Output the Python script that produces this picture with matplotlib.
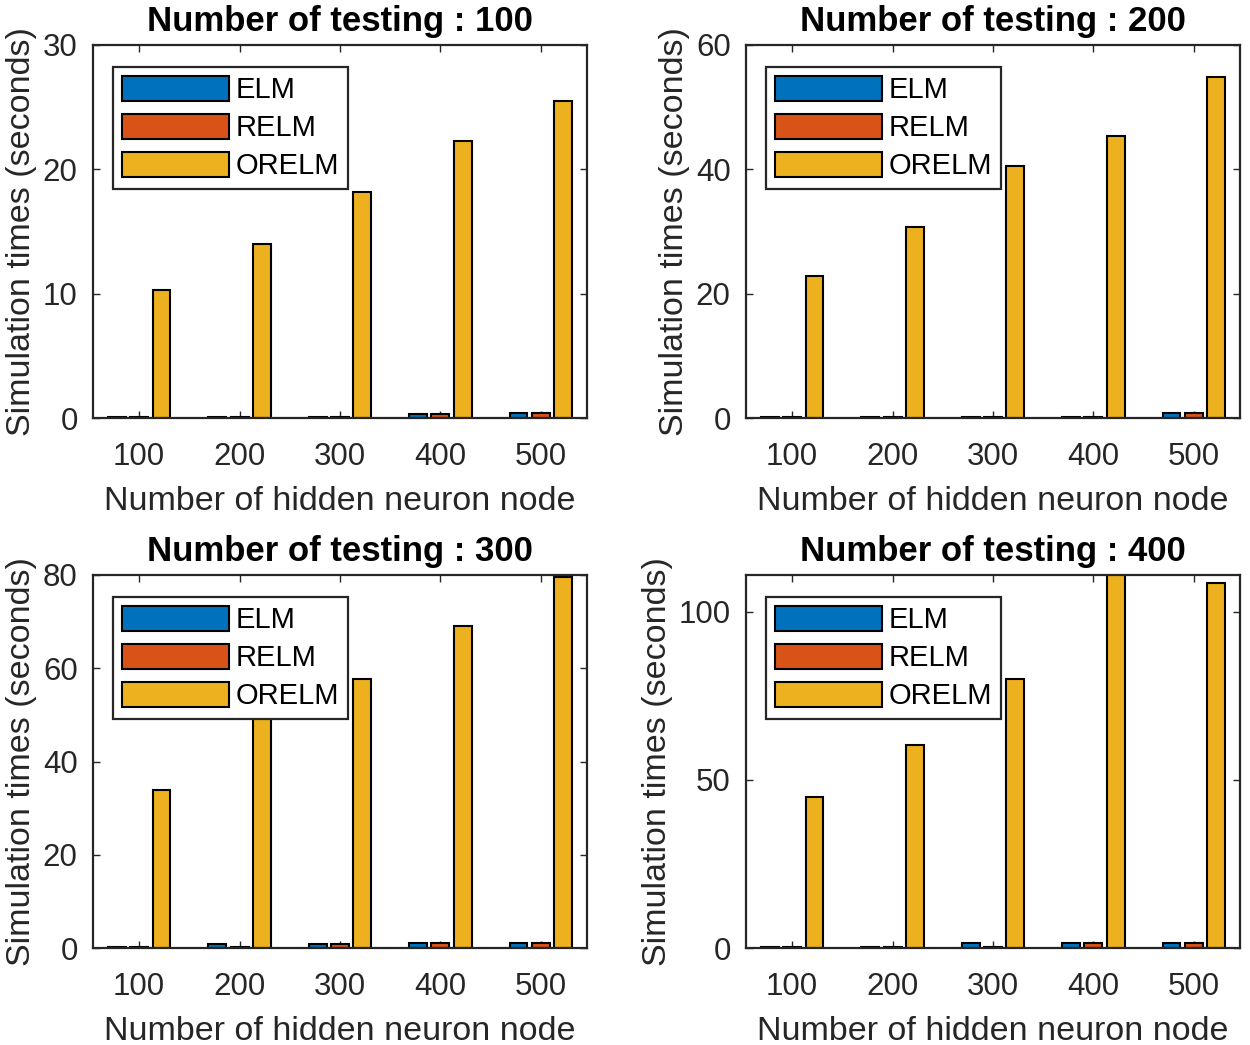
import numpy as np
import matplotlib
matplotlib.use("Agg")
import matplotlib.pyplot as plt

plt.rcParams['font.family'] = ['Liberation Sans', 'DejaVu Sans']

# nombre de neurones caches
neurons = [100, 200, 300, 400, 500]
methods = ["ELM", "RELM", "ORELM"]
colors = ["#0072BD", "#D95319", "#EDB120"]

# temps de simulation (secondes)
testing_100 = {
    "ELM": [0.1, 0.1, 0.1, 0.35, 0.4],
    "RELM": [0.1, 0.1, 0.1, 0.35, 0.4],
    "ORELM": [10.3, 14.0, 18.2, 22.3, 25.5],
}
testing_200 = {
    "ELM": [0.2, 0.2, 0.2, 0.2, 0.8],
    "RELM": [0.2, 0.2, 0.2, 0.2, 0.8],
    "ORELM": [22.9, 30.8, 40.6, 45.4, 54.8],
}
testing_300 = {
    "ELM": [0.3, 0.9, 0.9, 1.0, 1.0],
    "RELM": [0.3, 0.3, 0.9, 1.0, 1.0],
    "ORELM": [33.8, 51.0, 57.6, 69.0, 79.5],
}
testing_400 = {
    "ELM": [0.3, 0.3, 1.5, 1.5, 1.5],
    "RELM": [0.3, 0.3, 0.3, 1.5, 1.5],
    "ORELM": [45.0, 60.5, 80.0, 115.0, 108.5],
}

panels = [
    (100, testing_100, 30, [0, 10, 20, 30]),
    (200, testing_200, 60, [0, 20, 40, 60]),
    (300, testing_300, 80, [0, 20, 40, 60, 80]),
    (400, testing_400, 111, [0, 50, 100]),
]

fig = plt.figure(figsize=(12.5, 10.45), dpi=100)
W, H = 1250, 1045
boxes = [(93, 45), (746, 45), (93, 575), (746, 575)]
aw, ah = 494, 373

x = np.array(neurons, dtype=float)
offsets = [-22.2, 0, 22.2]
width = 17.8

for (n_test, data, ymax, yticks), (px, py) in zip(panels, boxes):
    ax = fig.add_axes([px / W, 1 - (py + ah) / H, aw / W, ah / H])
    for m, off, c in zip(methods, offsets, colors):
        ax.bar(x + off, data[m], width=width, color=c, edgecolor="black",
               linewidth=1.5, label=m, zorder=2)
    ax.set_xlim(54, 546)
    ax.set_ylim(0, ymax)
    ax.set_xticks(neurons)
    ax.set_yticks(yticks)
    ax.tick_params(direction="in", top=True, right=True, labelsize=22.5,
                   length=5, width=1, colors="#262626")
    ax.tick_params(axis="x", pad=17)
    ax.tick_params(axis="y", pad=11)
    for s in ax.spines.values():
        s.set_linewidth(1.6)
        s.set_color("#262626")
    ax.set_title("Number of testing : %d" % n_test, fontsize=25,
                 fontweight="bold", pad=10)
    ax.set_xlabel("Number of hidden neuron node", fontsize=24.5, labelpad=10,
                  color="#262626")
    ax.set_ylabel("Simulation times (seconds)", fontsize=24.5, labelpad=4,
                  color="#262626")
    leg = ax.legend(loc="upper left", bbox_to_anchor=(0.04, 0.941),
                    fontsize=21, handlelength=3.7, handleheight=0.93,
                    handletextpad=0.2, labelspacing=0.33, borderpad=0.3,
                    borderaxespad=0, fancybox=False, framealpha=1)
    leg.get_frame().set_edgecolor("#262626")
    leg.get_frame().set_linewidth(1.6)
    leg.set_zorder(5)

fig.savefig("out.png", dpi=100)
